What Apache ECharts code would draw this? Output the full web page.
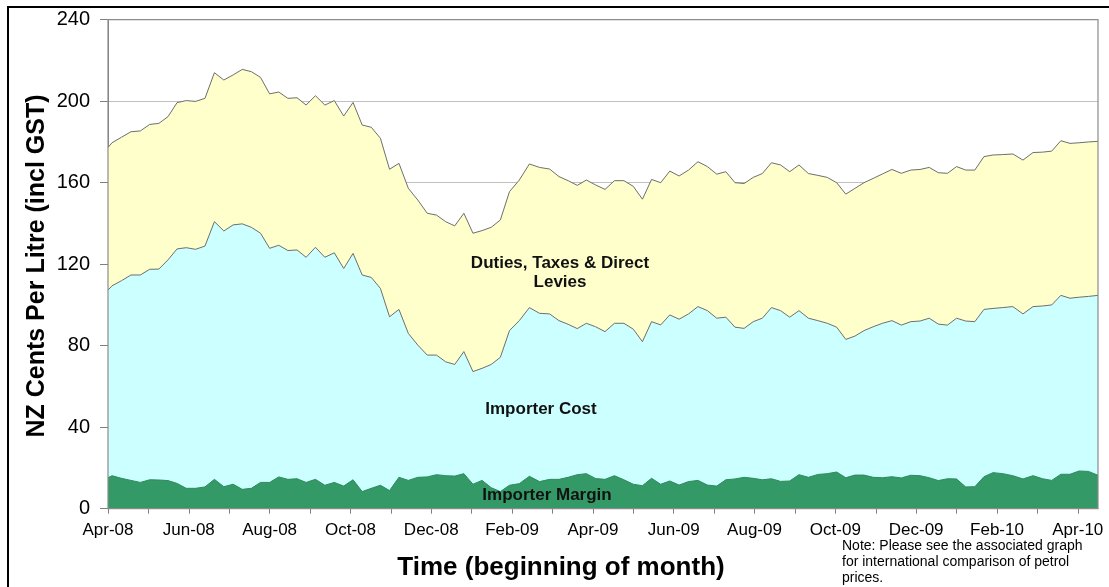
<!DOCTYPE html>
<html><head><meta charset="utf-8">
<script src="https://cdn.jsdelivr.net/npm/echarts@6/dist/echarts.min.js"></script>
<style>html,body{margin:0;padding:0;background:#fff}#c{width:1109px;height:587px}</style>
</head><body><div id="c"></div>
<script>
// ---- data (weekly, cents per litre) ----
const firstDate = '2008-04-01';
const weeklyStart = [2008, 4, 4];
const weeklyCount = 107;
const tickLabels = ['Apr-08','Jun-08','Aug-08','Oct-08','Dec-08','Feb-09','Apr-09','Jun-09','Aug-09','Oct-09','Dec-09','Feb-10','Apr-10'];
const yTicks = [0, 40, 80, 120, 160, 200, 240];

const margin = [15.2,
 16.2,14.9,13.9,12.9,14.2,14.1,13.8,12.4,10.0,10.0,
 10.7,14.4,10.8,12.0,9.5,10.0,12.9,12.9,15.6,14.4,
 14.7,12.9,14.4,11.5,12.9,11.1,14.2,8.4,10.0,11.5,
 8.9,15.4,13.9,15.4,15.6,16.7,16.2,16.0,17.2,12.0,
 13.9,10.3,8.4,11.5,12.3,15.9,13.3,14.4,14.4,15.4,
 16.7,17.2,14.8,14.4,16.2,14.2,12.0,11.3,14.9,12.0,
 13.6,11.6,13.3,13.9,11.6,11.1,14.2,14.6,15.4,14.9,
 14.2,14.7,13.4,13.6,16.7,15.4,16.8,17.2,18.0,15.2,
 16.5,16.5,15.4,15.2,15.7,15.1,16.4,16.2,15.2,13.8,
 14.7,14.6,10.7,10.8,15.7,17.7,17.2,16.2,14.6,16.2,
 14.7,13.9,16.9,16.9,18.5,18.3,16.4];

const importerCost = [92.1,
 93.2,97.0,100.8,101.8,103.3,103.5,108.3,115.1,118.1,117.3,
 118.2,126.5,125.5,127.3,130.3,128.1,122.3,114.9,113.7,112.3,
 112.3,110.5,113.9,111.9,112.7,106.8,111.1,106.3,103.5,96.6,
 85.3,82.4,72.1,64.9,59.8,58.7,55.9,54.8,59.9,55.3,
 55.0,60.5,65.9,75.9,80.0,82.8,82.6,81.2,77.9,75.1,
 71.7,73.8,74.5,72.5,74.8,76.8,76.1,70.7,76.9,78.2,
 81.5,81.4,82.3,85.3,85.6,82.4,79.8,74.5,73.1,76.9,
 79.3,84.0,83.8,80.4,80.5,78.1,75.5,73.8,71.1,67.9,
 68.2,70.9,73.9,75.8,76.6,75.0,75.4,75.9,78.3,76.8,
 75.4,78.9,81.4,81.0,82.1,80.6,81.5,83.0,81.0,83.0,
 84.8,86.1,87.8,86.4,85.3,85.9,88.3];

const duties = [70.0,
 70.2,70.4,70.3,70.7,71.1,71.5,70.3,71.8,72.2,72.6,
 72.5,73.1,74.1,73.6,75.8,76.4,76.5,75.8,75.2,74.7,
 74.7,74.7,74.4,74.7,74.7,74.8,74.1,73.6,73.7,73.7,
 72.4,71.7,71.2,71.2,69.6,68.7,68.8,68.0,67.9,67.9,
 67.6,67.3,67.4,68.2,69.0,70.5,71.6,71.1,70.7,70.5,
 70.3,70.3,69.6,69.8,70.0,70.0,70.1,69.9,69.8,69.8,
 70.6,70.3,70.6,71.1,70.7,70.7,71.4,70.9,71.1,70.8,
 71.0,71.1,71.5,71.4,71.5,71.0,71.3,71.6,70.9,71.3,
 72.5,72.6,72.8,73.3,74.2,74.5,74.4,74.4,74.0,74.3,
 74.5,74.4,74.1,74.4,75.0,75.3,75.1,74.9,75.5,75.6,
 75.5,75.5,75.9,76.0,75.8,75.8,75.6];

// ---- build ----
const dates = [firstDate];
const t0 = Date.UTC(weeklyStart[0], weeklyStart[1] - 1, weeklyStart[2]);
for (let k = 0; k < weeklyCount; k++) {
  dates.push(new Date(t0 + k * 7 * 86400000).toISOString().slice(0, 10));
}
function monthOffset(s) {
  const [y, m, d] = s.split('-').map(Number);
  const dim = new Date(Date.UTC(y, m, 0)).getUTCDate();
  return (y - 2008) * 12 + (m - 4) + (d - 1) / dim;
}
const xs = dates.map(monthOffset);
const costTop = margin.map((v, i) => +(v + importerCost[i]).toFixed(2));
const total = costTop.map((v, i) => +(v + duties[i]).toFixed(2));

const FONT = '"Liberation Sans", Arial, Helvetica, sans-serif';
const monthTicks = []; for (let k = 0; k <= 24; k++) monthTicks.push(k);
const labelTicks = tickLabels.map((_, k) => k * 2);

const chart = echarts.init(document.getElementById('c'), null, {renderer: 'canvas'});
chart.setOption({
  animation: false,
  backgroundColor: '#ffffff',
  textStyle: {fontFamily: FONT},
  grid: {left: 108, right: 11, top: 19.7, bottom: 78.3, show: true, z: 5,
         backgroundColor: 'transparent', borderColor: '#8c8c8c', borderWidth: 1.2},
  xAxis: {
    type: 'value', min: 0, max: xs[xs.length - 1],
    axisLine: {show: true, lineStyle: {color: '#808080', width: 1}},
    axisTick: {show: true, customValues: monthTicks, length: 5, lineStyle: {color: '#808080'}},
    axisLabel: {customValues: labelTicks, fontSize: 17, color: '#000', margin: 13, fontFamily: FONT,
                formatter: v => tickLabels[Math.round(v / 2)] || ''},
    splitLine: {show: false}
  },
  yAxis: {
    type: 'value', min: 0, max: 240, interval: 40,
    axisLine: {show: true, lineStyle: {color: '#808080', width: 1}},
    axisTick: {show: true, length: 8, lineStyle: {color: '#808080'}},
    axisLabel: {fontSize: 20, color: '#000', margin: 18, fontFamily: FONT},
    splitLine: {show: true, lineStyle: {color: '#c0c0c0', width: 1}}
  },
  series: [
    {name: 'Duties, Taxes & Direct Levies', type: 'line', symbol: 'none', z: 2,
     data: xs.map((x, i) => [x, total[i]]),
     lineStyle: {color: '#6e6e6e', width: 1}, areaStyle: {color: '#FFFFCC', opacity: 1}},
    {name: 'Importer Cost', type: 'line', symbol: 'none', z: 3,
     data: xs.map((x, i) => [x, costTop[i]]),
     lineStyle: {color: '#6e6e6e', width: 1}, areaStyle: {color: '#CCFFFF', opacity: 1}},
    {name: 'Importer Margin', type: 'line', symbol: 'none', z: 4,
     data: xs.map((x, i) => [x, margin[i]]),
     lineStyle: {color: '#2f8a5c', width: 1}, areaStyle: {color: '#339966', opacity: 1}}
  ],
  graphic: [
    {type: 'rect', z: 100, shape: {x: 8, y: 7, width: 1200, height: 700},
     style: {fill: 'none', stroke: '#000', lineWidth: 2}},
    {type: 'text', z: 100, x: 560, y: 263, style: {text: 'Duties, Taxes & Direct', font: 'bold 17px ' + FONT, fill: '#111', textAlign: 'center', textVerticalAlign: 'middle'}},
    {type: 'text', z: 100, x: 560, y: 282, style: {text: 'Levies', font: 'bold 17px ' + FONT, fill: '#111', textAlign: 'center', textVerticalAlign: 'middle'}},
    {type: 'text', z: 100, x: 541, y: 409, style: {text: 'Importer Cost', font: 'bold 17px ' + FONT, fill: '#111', textAlign: 'center', textVerticalAlign: 'middle'}},
    {type: 'text', z: 100, x: 547, y: 495, style: {text: 'Importer Margin', font: 'bold 17px ' + FONT, fill: '#111', textAlign: 'center', textVerticalAlign: 'middle'}},
    {type: 'text', z: 100, x: 37, y: 266, rotation: Math.PI / 2,
     style: {text: 'NZ Cents Per Litre (incl GST)', font: 'bold 25px ' + FONT, fill: '#000', textAlign: 'center', textVerticalAlign: 'middle'}},
    {type: 'text', z: 100, x: 561, y: 568,
     style: {text: 'Time (beginning of month)', font: 'bold 26px ' + FONT, fill: '#000', textAlign: 'center', textVerticalAlign: 'middle'}},
    {type: 'text', z: 100, x: 842, y: 538,
     style: {text: 'Note: Please see the associated graph\nfor international comparison of petrol\nprices.', font: '14px ' + FONT, fill: '#000', lineHeight: 16, textAlign: 'left', textVerticalAlign: 'top'}}
  ]
});
</script></body></html>
